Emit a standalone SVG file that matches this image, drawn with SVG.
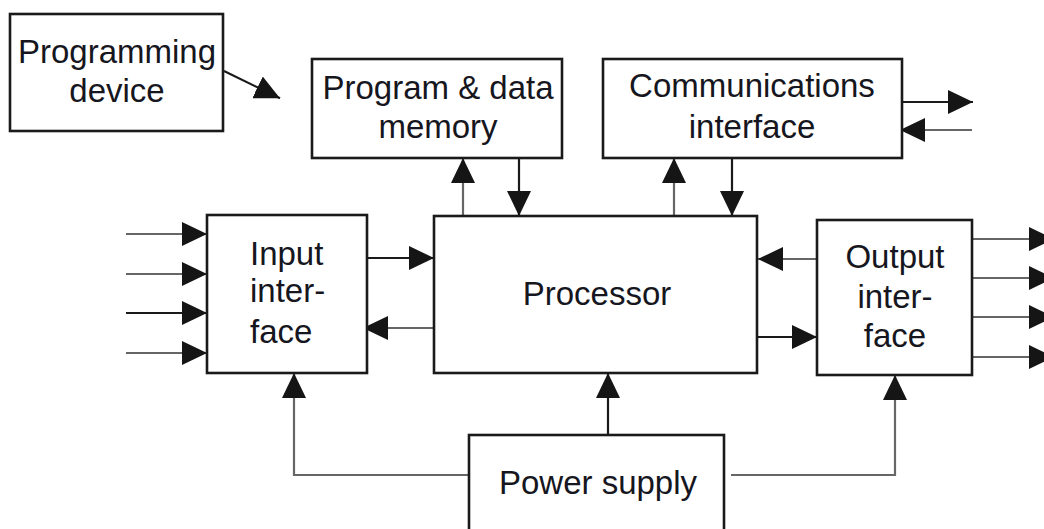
<svg xmlns="http://www.w3.org/2000/svg" width="1044" height="529" viewBox="0 0 1044 529">
<style>
.box{fill:#fff;stroke:#1a1a1a;stroke-width:2.6}
.t{font-family:"Liberation Sans",Arial,sans-serif;font-size:33px;fill:#161620}
.c{text-anchor:middle}
.ln{fill:none;stroke:#1a1a1a;stroke-width:2.2}
.g{fill:none;stroke:#666;stroke-width:2.2}
</style>
<defs>
<marker id="ah" markerUnits="userSpaceOnUse" markerWidth="26" markerHeight="24" refX="25" refY="12" orient="auto" viewBox="0 0 26 24">
<path d="M0,0 L25,12 L0,24 z" fill="#151515"/>
</marker>
</defs>
<rect width="1044" height="529" fill="#fff"/>
<g id="connectors">
<line class="ln" x1="224" y1="71" x2="280" y2="98.3" marker-end="url(#ah)"/>
<line class="g" x1="463" y1="216" x2="463" y2="158" marker-end="url(#ah)"/>
<line class="ln" x1="519" y1="158" x2="519" y2="216" marker-end="url(#ah)"/>
<line class="g" x1="674" y1="216" x2="674" y2="158" marker-end="url(#ah)"/>
<line class="ln" x1="732" y1="158" x2="732" y2="216" marker-end="url(#ah)"/>
<line class="ln" x1="902" y1="102" x2="973" y2="102" marker-end="url(#ah)"/>
<line class="g" x1="972" y1="130" x2="900" y2="130" marker-end="url(#ah)"/>
<line class="g" x1="126" y1="234" x2="207" y2="234" marker-end="url(#ah)"/>
<line class="g" x1="126" y1="274" x2="207" y2="274" marker-end="url(#ah)"/>
<line class="ln" x1="126" y1="313" x2="207" y2="313" marker-end="url(#ah)"/>
<line class="g" x1="126" y1="353" x2="207" y2="353" marker-end="url(#ah)"/>
<line class="ln" x1="362" y1="258" x2="434" y2="258" marker-end="url(#ah)"/>
<line class="g" x1="434" y1="328" x2="363" y2="328" marker-end="url(#ah)"/>
<line class="g" x1="817" y1="259" x2="758" y2="259" marker-end="url(#ah)"/>
<line class="ln" x1="757" y1="337" x2="817" y2="337" marker-end="url(#ah)"/>
<line class="g" x1="972" y1="239" x2="1054" y2="239" marker-end="url(#ah)"/>
<line class="g" x1="972" y1="278" x2="1054" y2="278" marker-end="url(#ah)"/>
<line class="g" x1="972" y1="317" x2="1054" y2="317" marker-end="url(#ah)"/>
<line class="g" x1="972" y1="357" x2="1054" y2="357" marker-end="url(#ah)"/>
<path class="g" d="M469,475 H294 V373" marker-end="url(#ah)"/>
<path class="ln" d="M608,435 V373" marker-end="url(#ah)"/>
<path class="g" d="M731,475 H895 V375" marker-end="url(#ah)"/>
</g>
<g id="programming-device">
<rect class="box" x="10" y="14" width="213" height="117"/>
<text class="t c" x="117" y="63">Programming</text>
<text class="t c" x="117" y="102">device</text>
</g>
<g id="memory">
<rect class="box" x="312" y="59" width="250" height="99"/>
<text class="t c" x="438" y="99">Program &amp; data</text>
<text class="t c" x="438" y="138">memory</text>
</g>
<g id="communications">
<rect class="box" x="603" y="59" width="299" height="99"/>
<text class="t c" x="752" y="97">Communications</text>
<text class="t c" x="752" y="138">interface</text>
</g>
<g id="input-interface">
<rect class="box" x="207" y="215" width="160" height="158"/>
<text class="t" x="250" y="265">Input</text>
<text class="t" x="250" y="302">inter-</text>
<text class="t" x="250" y="343">face</text>
</g>
<g id="processor">
<rect class="box" x="434" y="216" width="323" height="157"/>
<text class="t c" x="597" y="305">Processor</text>
</g>
<g id="output-interface">
<rect class="box" x="817" y="220" width="155" height="155"/>
<text class="t c" x="895" y="268">Output</text>
<text class="t c" x="895" y="308">inter-</text>
<text class="t c" x="895" y="347">face</text>
</g>
<g id="power-supply">
<rect class="box" x="469" y="435" width="255" height="110"/>
<text class="t c" x="598" y="494">Power supply</text>
</g>
</svg>
